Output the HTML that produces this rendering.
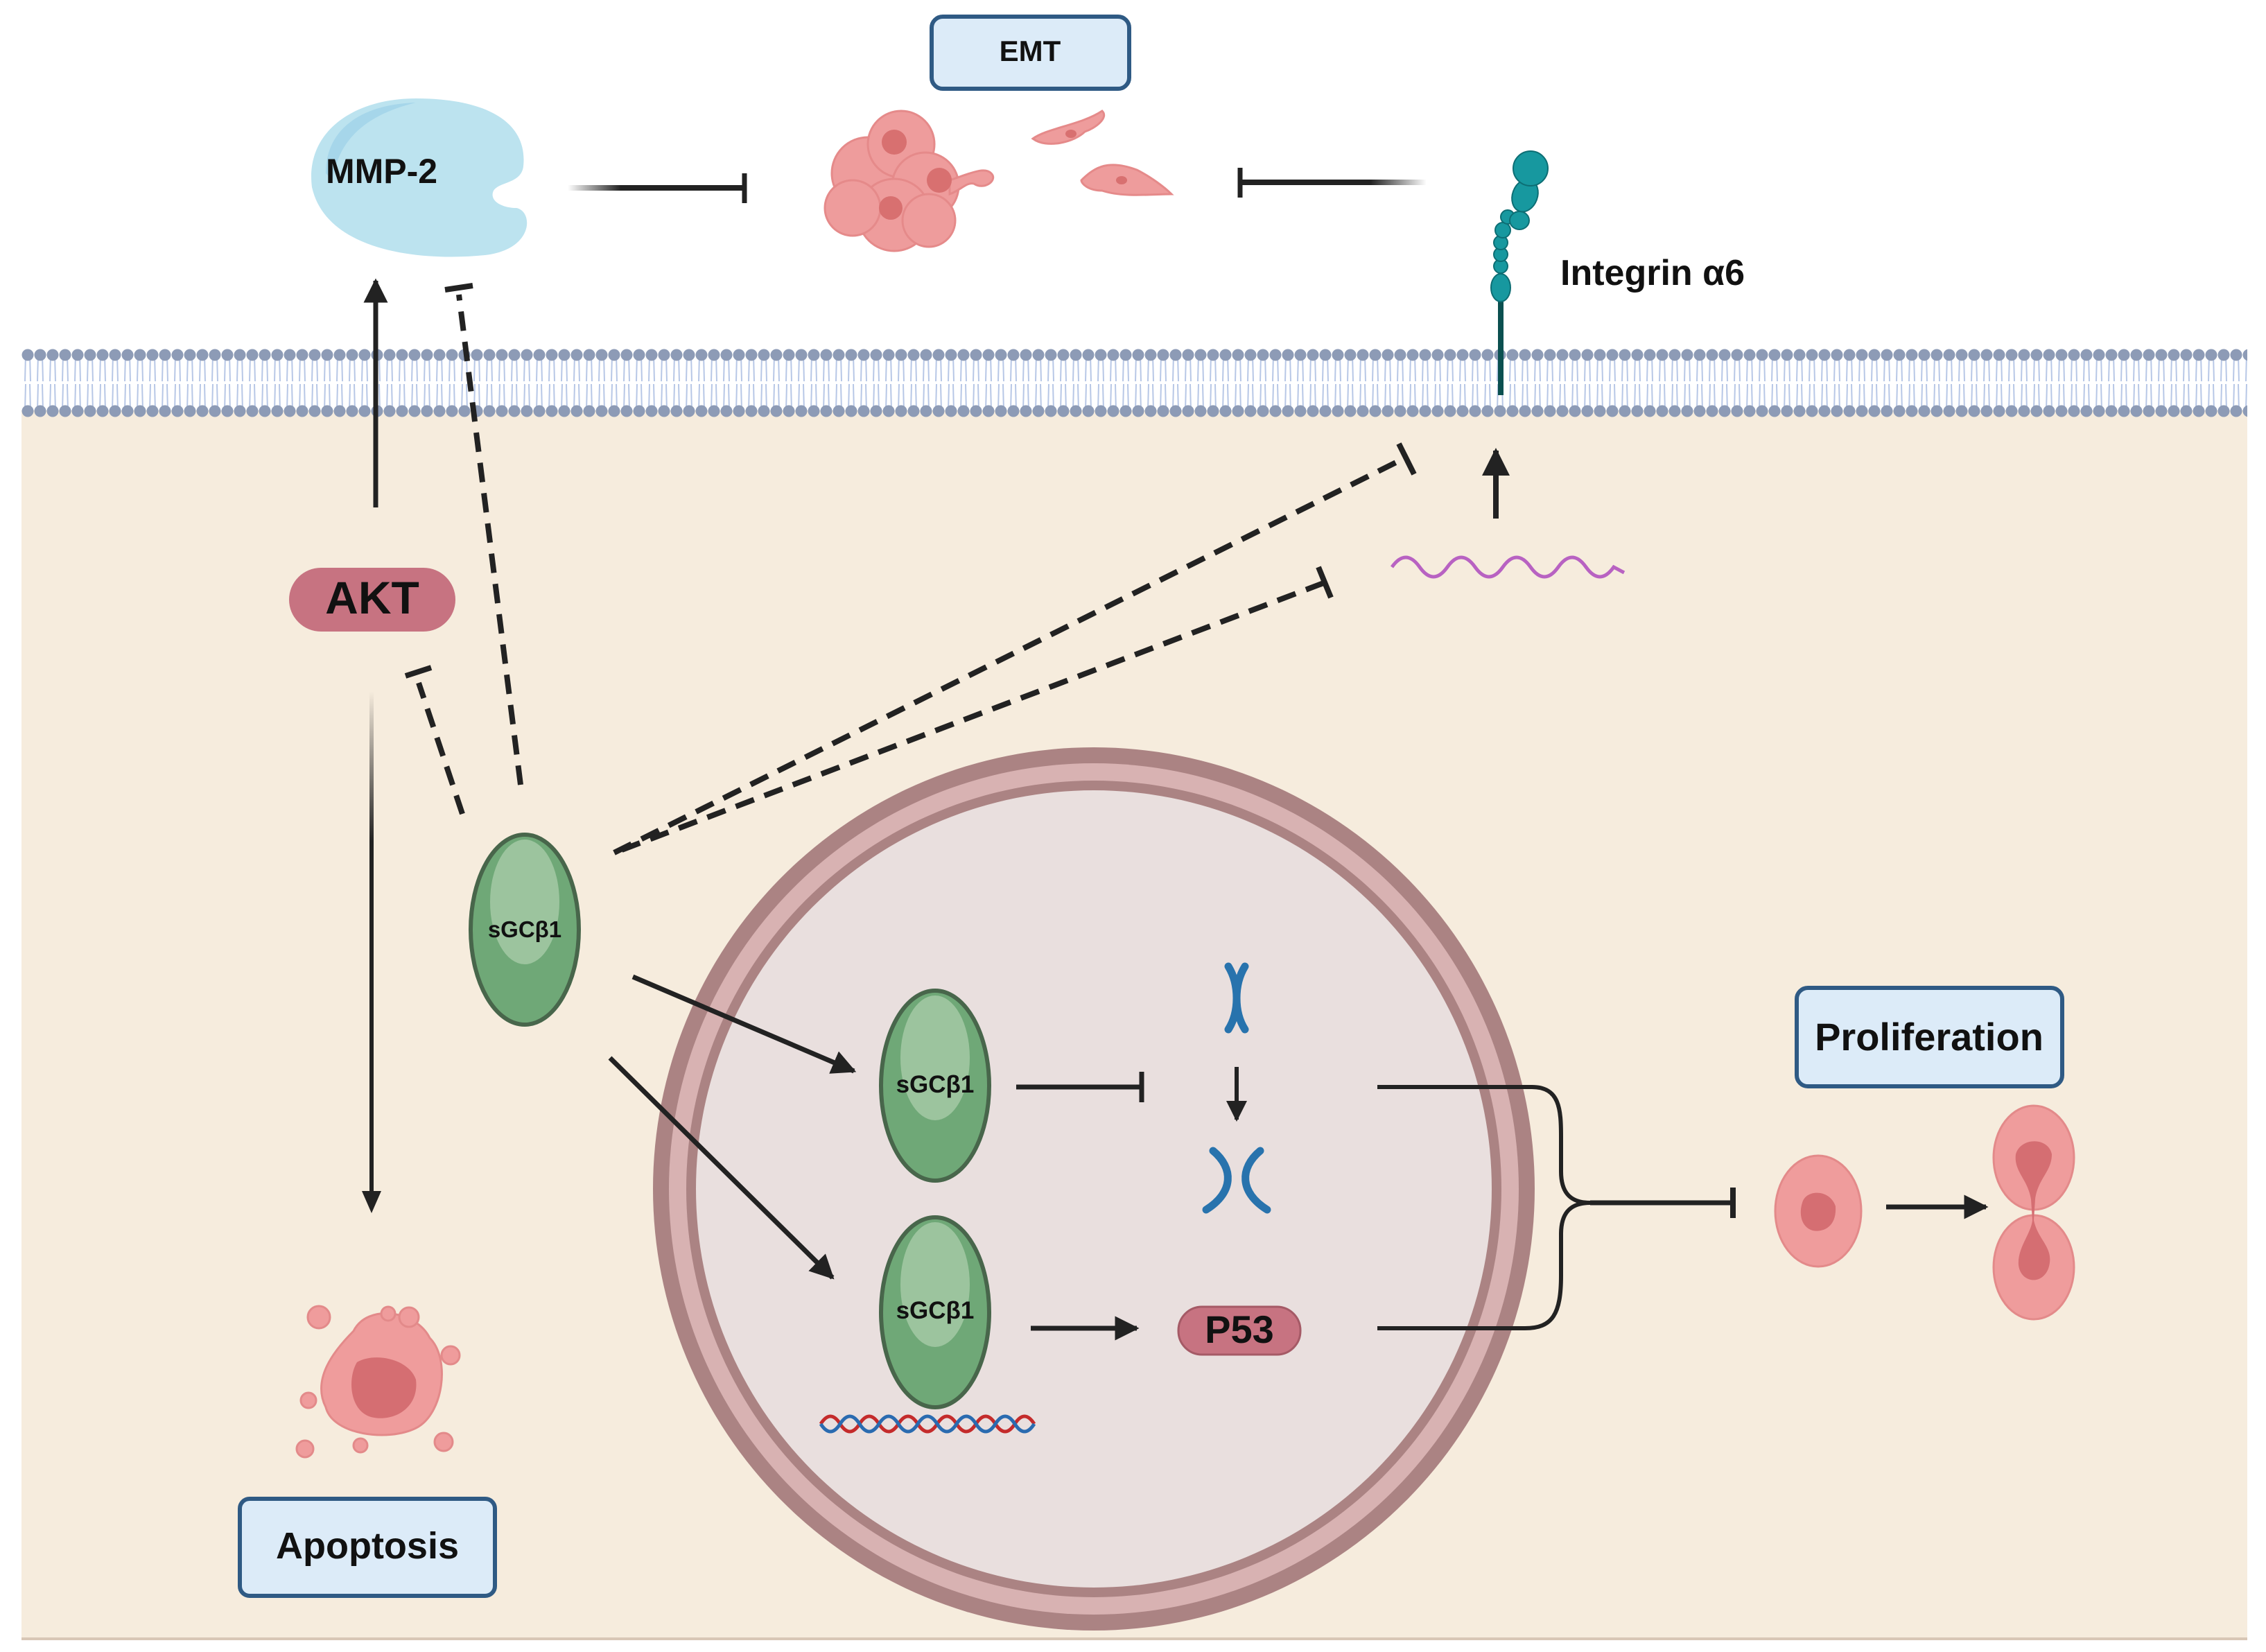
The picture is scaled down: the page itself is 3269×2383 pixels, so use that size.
<!DOCTYPE html>
<html><head><meta charset="utf-8"><style>
html,body{margin:0;padding:0;background:#fff;}
svg{display:block;}
text{font-family:"Liberation Sans",sans-serif;font-weight:bold;fill:#111;}
</style></head><body>
<svg width="3269" height="2383" viewBox="0 0 3269 2383" xmlns="http://www.w3.org/2000/svg">
<defs>
<pattern id="headsT" x="31" y="497" width="18" height="30" patternUnits="userSpaceOnUse">
<circle cx="9" cy="15" r="8.5" fill="#8d9bb6"/>
</pattern>
<pattern id="headsB" x="31" y="578" width="18" height="30" patternUnits="userSpaceOnUse">
<circle cx="9" cy="15" r="8.5" fill="#8d9bb6"/>
</pattern>
<pattern id="tails" x="31" y="512" width="18" height="80" patternUnits="userSpaceOnUse">
<path d="M6 0 L5 38 M12 0 L13 38 M6 42 L5 80 M12 42 L13 80" stroke="#b7c7e6" stroke-width="2" fill="none"/>
</pattern>
<linearGradient id="fadeR" x1="0" x2="1" y1="0" y2="0"><stop offset="0" stop-color="#222" stop-opacity="0"/><stop offset="0.3" stop-color="#222"/><stop offset="1" stop-color="#222"/></linearGradient>
<linearGradient id="fadeL" x1="0" x2="1" y1="0" y2="0"><stop offset="0" stop-color="#222"/><stop offset="0.7" stop-color="#222"/><stop offset="1" stop-color="#222" stop-opacity="0"/></linearGradient>
<linearGradient id="fadeD" x1="0" x2="0" y1="0" y2="1"><stop offset="0" stop-color="#222" stop-opacity="0"/><stop offset="0.3" stop-color="#222"/><stop offset="1" stop-color="#222"/></linearGradient>
<marker id="ah" viewBox="0 0 10 10" refX="9" refY="5" markerWidth="5" markerHeight="5" orient="auto" markerUnits="strokeWidth"><path d="M0 0 L10 5 L0 10 z" fill="#222"/></marker>
<g id="sgc">
<ellipse cx="0" cy="0" rx="78" ry="137" fill="#6fa877" stroke="#48664b" stroke-width="6"/>
<ellipse cx="0" cy="-40" rx="50" ry="90" fill="#9cc49e"/>
</g>
</defs>

<!-- cytoplasm -->
<rect x="31" y="590" width="3211" height="1776" fill="#f6ecdd"/>
<line x1="31" y1="2364" x2="3242" y2="2364" stroke="#d8c7b6" stroke-width="4"/>
<!-- membrane -->
<rect x="31" y="512" width="3211" height="80" fill="#ffffff"/>
<rect x="31" y="512" width="3211" height="80" fill="url(#tails)"/>
<rect x="31" y="497" width="3211" height="30" fill="url(#headsT)"/>
<rect x="31" y="578" width="3211" height="30" fill="url(#headsB)"/>

<!-- nucleus -->
<ellipse cx="1578" cy="1715" rx="636" ry="637" fill="#ab8383"/>
<ellipse cx="1578" cy="1715" rx="613" ry="614" fill="#d8b2b2"/>
<ellipse cx="1578" cy="1715" rx="588" ry="589" fill="#ab8383"/>
<ellipse cx="1578" cy="1715" rx="574" ry="575" fill="#e9dfde"/>

<!-- MMP-2 -->
<path d="M600 142 C700 142 762 175 755 240 C752 265 720 262 712 275 C705 290 725 300 745 300 C770 305 770 360 700 368 C600 378 470 360 450 270 C440 190 510 142 600 142 z" fill="#bce3ef"/>
<path d="M470 250 C470 180 530 150 600 148 C530 165 488 200 480 260 z" fill="#a6d6ea"/>
<text x="470" y="264" font-size="50">MMP-2</text>

<!-- EMT box -->
<rect x="1344" y="24" width="285" height="104" rx="16" fill="#dcebf8" stroke="#2f5a84" stroke-width="6"/>
<text x="1486" y="88" font-size="42" text-anchor="middle">EMT</text>

<!-- EMT cells -->
<g fill="#ee9c9c" stroke="#e58a8a" stroke-width="3">
<circle cx="1252" cy="250" r="52"/><circle cx="1300" cy="208" r="48"/><circle cx="1335" cy="268" r="48"/>
<circle cx="1290" cy="310" r="52"/><circle cx="1340" cy="318" r="38"/><circle cx="1230" cy="300" r="40"/>
<path d="M1370 260 C1400 250 1420 240 1430 250 C1440 260 1420 275 1405 265 C1395 262 1385 275 1370 280 z"/>
<path d="M1490 200 C1510 185 1560 180 1590 160 C1600 170 1580 185 1565 190 C1550 205 1510 215 1490 200 z"/>
<path d="M1560 260 C1580 240 1600 230 1640 245 C1660 255 1680 270 1690 280 C1660 280 1620 285 1590 275 C1570 275 1560 265 1560 260 z"/>
</g>
<g fill="#d87070"><circle cx="1290" cy="205" r="18"/><circle cx="1355" cy="260" r="18"/><circle cx="1285" cy="300" r="17"/><ellipse cx="1545" cy="193" rx="8" ry="6"/><ellipse cx="1618" cy="260" rx="8" ry="6"/></g>

<!-- MMP -> EMT inhibition -->
<rect x="819" y="267" width="255" height="8" fill="url(#fadeR)"/>
<line x1="1074" y1="250" x2="1074" y2="293" stroke="#222" stroke-width="7"/>
<!-- Integrin -> EMT -->
<rect x="1789" y="259" width="269" height="8" fill="url(#fadeL)"/>
<line x1="1789" y1="242" x2="1789" y2="285" stroke="#222" stroke-width="7"/>

<!-- integrin -->
<line x1="2165" y1="430" x2="2165" y2="570" stroke="#0b5050" stroke-width="8"/>
<g fill="#17989f" stroke="#0d6e74" stroke-width="2">
<ellipse cx="2165" cy="415" rx="14" ry="20"/>
<circle cx="2165" cy="384" r="10"/><circle cx="2165" cy="367" r="10"/><circle cx="2165" cy="350" r="10"/>
<circle cx="2168" cy="332" r="11"/><circle cx="2175" cy="313" r="10"/>
<ellipse cx="2192" cy="318" rx="14" ry="13"/>
<ellipse cx="2200" cy="282" rx="18" ry="24" transform="rotate(20 2200 282)"/>
<circle cx="2208" cy="243" r="25"/>
</g>
<text x="2251" y="411" font-size="52">Integrin α6</text>

<!-- up arrow & mRNA -->
<line x1="2158" y1="748" x2="2158" y2="650" stroke="#222" stroke-width="8" marker-end="url(#ah)"/>
<path d="M2008 818 q20 -28 40 0 t40 0 t40 0 t40 0 t40 0 t40 0 t40 0 t40 0 l15 8" fill="none" stroke="#b862c2" stroke-width="5"/>

<!-- AKT -->
<rect x="417" y="819" width="240" height="92" rx="46" fill="#c77381"/>
<text x="537" y="885" font-size="66" text-anchor="middle">AKT</text>
<line x1="542" y1="732" x2="542" y2="405" stroke="#222" stroke-width="7" marker-end="url(#ah)"/>
<rect x="533" y="997" width="6" height="723" fill="url(#fadeD)"/>
<path d="M522 1718 L550 1718 L536 1750 z" fill="#222"/>

<!-- apoptotic cell -->
<g fill="#ef9c9c" stroke="#e38a8a" stroke-width="3">
<path d="M510 1920 C530 1880 600 1890 620 1930 C650 1960 640 2040 600 2060 C560 2080 480 2070 470 2030 C450 1990 480 1950 510 1920 z"/>
<circle cx="460" cy="1900" r="16"/><circle cx="590" cy="1900" r="14"/><circle cx="650" cy="1955" r="13"/>
<circle cx="445" cy="2020" r="11"/><circle cx="440" cy="2090" r="12"/><circle cx="640" cy="2080" r="13"/><circle cx="520" cy="2085" r="10"/><circle cx="560" cy="1895" r="10"/>
</g>
<path d="M515 1965 C540 1950 590 1960 600 1990 C605 2030 570 2050 540 2045 C505 2040 500 1990 515 1965 z" fill="#d56e72"/>

<!-- Apoptosis box -->
<rect x="346" y="2162" width="368" height="140" rx="14" fill="#dcebf8" stroke="#2f5a84" stroke-width="6"/>
<text x="530" y="2248" font-size="54" text-anchor="middle">Apoptosis</text>

<!-- dashed inhibitions -->
<g stroke="#222" stroke-width="8" stroke-dasharray="28 16" fill="none">
<line x1="751" y1="1132" x2="662" y2="425"/>
<line x1="667" y1="1174" x2="604" y2="985"/>
<line x1="886" y1="1230" x2="2028" y2="660"/>
<line x1="897" y1="1226" x2="1912" y2="840"/>
</g>
<g stroke="#222" stroke-width="8">
<line x1="642" y1="418" x2="682" y2="412"/>
<line x1="585" y1="975" x2="622" y2="963"/>
<line x1="2018" y1="640" x2="2040" y2="684"/>
<line x1="1902" y1="818" x2="1920" y2="862"/>
</g>

<!-- cytoplasmic sGC -->
<use href="#sgc" x="757" y="1341"/>
<text x="757" y="1352" font-size="33" text-anchor="middle">sGCβ1</text>
<line x1="913" y1="1409" x2="1232" y2="1545" stroke="#222" stroke-width="7" marker-end="url(#ah)"/>
<line x1="880" y1="1526" x2="1201" y2="1843" stroke="#222" stroke-width="7" marker-end="url(#ah)"/>

<!-- nuclear sGCs -->
<use href="#sgc" x="1349" y="1566"/>
<text x="1349" y="1576" font-size="35" text-anchor="middle">sGCβ1</text>
<use href="#sgc" x="1349" y="1893"/>
<text x="1349" y="1902" font-size="35" text-anchor="middle">sGCβ1</text>
<!-- DNA -->
<path d="M1184 2054 q14 -22 28 0 t28 0 t28 0 t28 0 t28 0 t28 0 t28 0 t28 0 t28 0 t28 0 t28 0" fill="none" stroke="#c42b2b" stroke-width="5"/>
<path d="M1184 2054 q14 22 28 0 t28 0 t28 0 t28 0 t28 0 t28 0 t28 0 t28 0 t28 0 t28 0 t28 0" fill="none" stroke="#2a6bb0" stroke-width="5"/>

<line x1="1466" y1="1568" x2="1647" y2="1568" stroke="#222" stroke-width="7"/>
<line x1="1647" y1="1546" x2="1647" y2="1590" stroke="#222" stroke-width="7"/>
<!-- chromosome -->
<g stroke="#2873ad" stroke-width="11" stroke-linecap="round" fill="none">
<path d="M1772 1394 C1788 1420 1788 1460 1772 1485"/>
<path d="M1796 1394 C1780 1420 1780 1460 1796 1485"/>
<path d="M1750 1660 C1780 1685 1780 1720 1740 1745"/>
<path d="M1818 1660 C1788 1685 1788 1720 1828 1745"/>
</g>
<line x1="1784" y1="1539" x2="1784" y2="1615" stroke="#222" stroke-width="6" marker-end="url(#ah)"/>

<line x1="1487" y1="1916" x2="1640" y2="1916" stroke="#222" stroke-width="7" marker-end="url(#ah)"/>
<rect x="1700" y="1885" width="176" height="69" rx="34" fill="#c77381" stroke="#a55a66" stroke-width="3"/>
<text x="1788" y="1937" font-size="56" text-anchor="middle">P53</text>

<!-- brace -->
<path d="M1987 1568 L2210 1568 C2250 1568 2252 1600 2252 1640 L2252 1690 C2252 1720 2265 1735 2294 1735 C2265 1735 2252 1750 2252 1780 L2252 1840 C2252 1895 2240 1916 2200 1916 L1987 1916" fill="none" stroke="#222" stroke-width="6"/>
<line x1="2294" y1="1735" x2="2500" y2="1735" stroke="#222" stroke-width="7"/>
<line x1="2500" y1="1713" x2="2500" y2="1757" stroke="#222" stroke-width="8"/>

<!-- Proliferation -->
<rect x="2592" y="1425" width="383" height="142" rx="16" fill="#dcebf8" stroke="#2f5a84" stroke-width="6"/>
<text x="2783" y="1515" font-size="56" text-anchor="middle">Proliferation</text>
<g fill="#ef9c9c" stroke="#e38a8a" stroke-width="3">
<ellipse cx="2623" cy="1747" rx="62" ry="80"/>
<ellipse cx="2934" cy="1670" rx="58" ry="75"/>
<ellipse cx="2934" cy="1828" rx="58" ry="75"/>
</g>
<path d="M2600 1735 C2605 1715 2640 1715 2648 1740 C2650 1770 2630 1778 2615 1775 C2598 1770 2595 1750 2600 1735 z" fill="#d56e72"/>
<path d="M2908 1665 C2915 1640 2955 1640 2960 1665 C2960 1690 2940 1700 2936 1730 L2934 1760 C2940 1790 2965 1800 2955 1830 C2945 1855 2915 1850 2912 1825 C2910 1800 2930 1780 2932 1760 L2930 1730 C2925 1700 2905 1690 2908 1665 z" fill="#d56e72"/>
<line x1="2721" y1="1741" x2="2865" y2="1741" stroke="#222" stroke-width="7" marker-end="url(#ah)"/>
</svg>
</body></html>
